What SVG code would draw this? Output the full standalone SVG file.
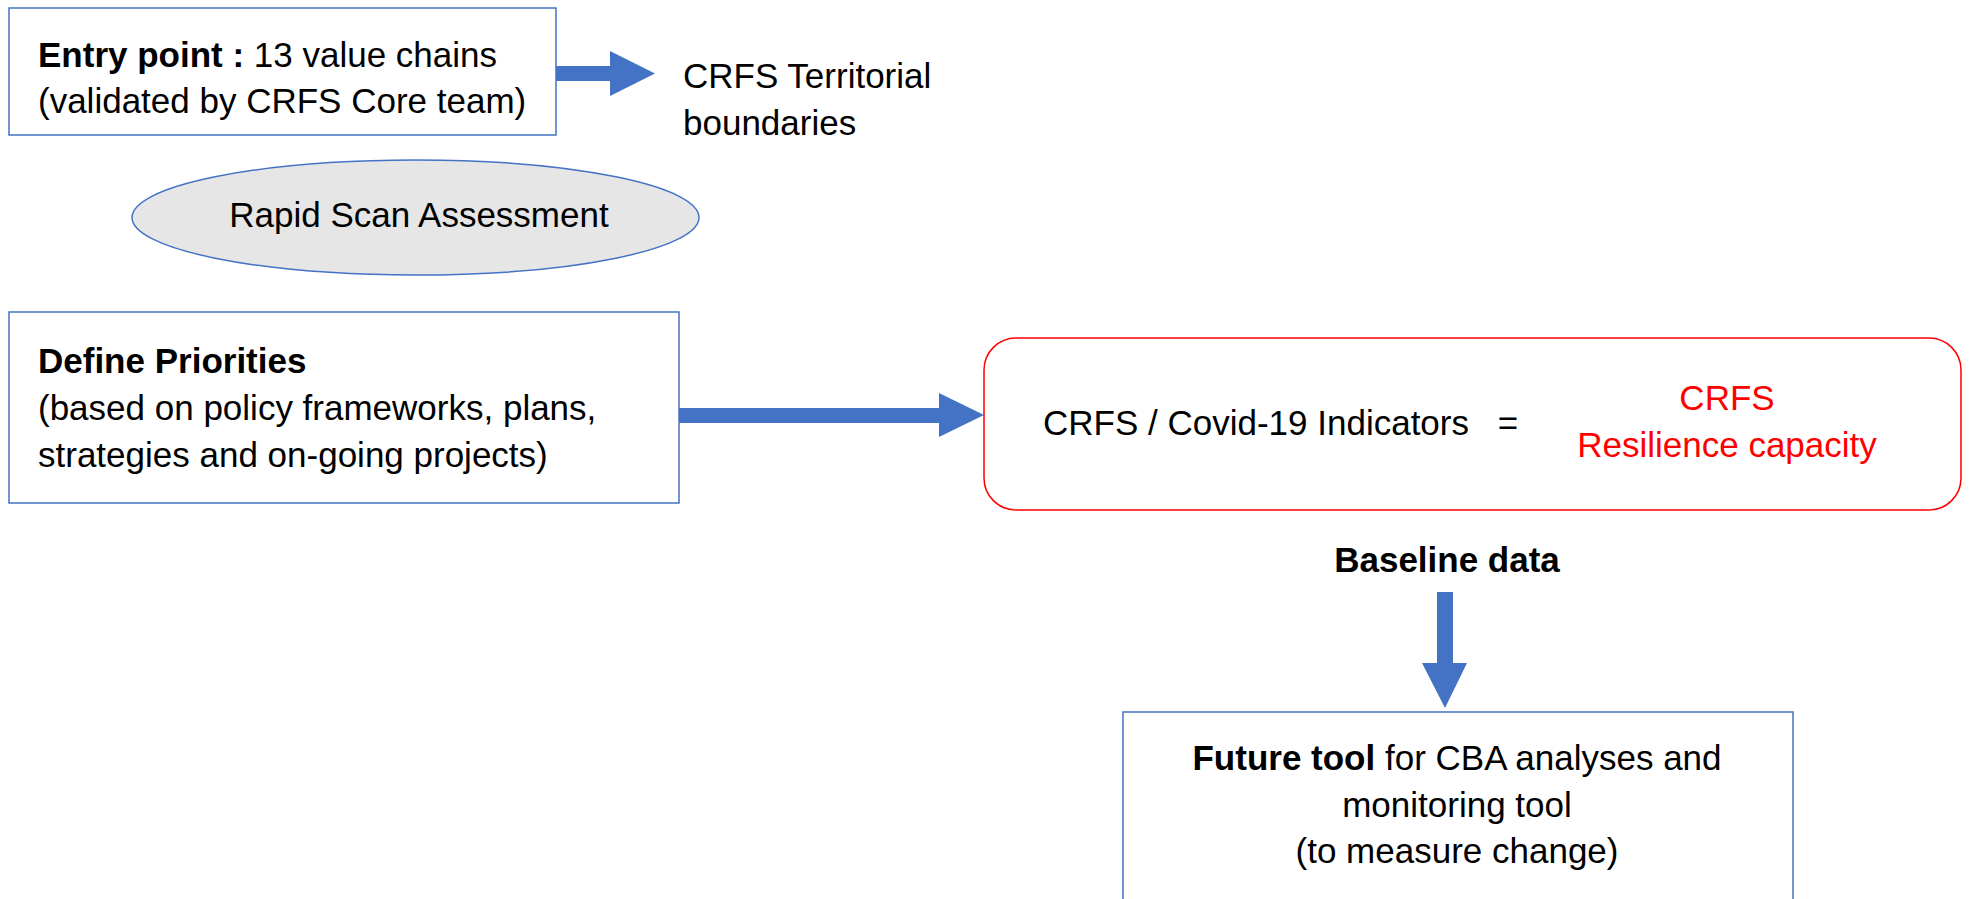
<svg xmlns="http://www.w3.org/2000/svg" width="1969" height="899" viewBox="0 0 1969 899">
<style>
text{font-family:"Liberation Sans",Arial,sans-serif;font-size:35px;fill:#000}
.b{font-weight:bold}
.red{fill:#FF0000}
.box{fill:#fff;stroke:#4472C4;stroke-width:1.5}
.arrow{fill:#4472C4;stroke:none}
</style>
<rect width="1969" height="899" fill="#fff"/>
<g id="connectors">
<polygon class="arrow" points="556,66 610,66 610,51 655,73.5 610,96 610,81 556,81"/>
<polygon class="arrow" points="679,408 939,408 939,393 984,415 939,437 939,423 679,423"/>
<polygon class="arrow" points="1437,592 1453,592 1453,663 1467,663 1445,708 1422,663 1437,663"/>
</g>
<g id="entry">
<rect class="box" x="9" y="8" width="547" height="127"/>
<text x="38" y="67"><tspan class="b">Entry point :</tspan> 13 value chains</text>
<text x="38" y="113">(validated by CRFS Core team)</text>
</g>
<g id="territorial">
<text x="683" y="88">CRFS Territorial</text>
<text x="683" y="135">boundaries</text>
</g>
<g id="rapid">
<ellipse cx="415.5" cy="217.5" rx="283.5" ry="57.5" fill="#E6E6E6" stroke="#4472C4" stroke-width="1.5"/>
<text x="419" y="227" text-anchor="middle">Rapid Scan Assessment</text>
</g>
<g id="priorities">
<rect class="box" x="9" y="312" width="670" height="191"/>
<text class="b" x="38" y="373">Define Priorities</text>
<text x="38" y="420">(based on policy frameworks, plans,</text>
<text x="38" y="467">strategies and on-going projects)</text>
</g>
<g id="indicators">
<rect x="984" y="338" width="977" height="172" rx="32" ry="32" fill="#fff" stroke="#FF0000" stroke-width="1.5"/>
<text x="1043" y="435">CRFS / Covid-19 Indicators</text>
<text x="1508" y="435" text-anchor="middle">=</text>
<text class="red" x="1727" y="410" text-anchor="middle">CRFS</text>
<text class="red" x="1727" y="457" text-anchor="middle">Resilience capacity</text>
</g>
<g id="baseline">
<text class="b" x="1447" y="572" text-anchor="middle">Baseline data</text>
</g>
<g id="future">
<rect class="box" x="1123" y="712" width="670" height="200"/>
<text x="1457" y="770" text-anchor="middle"><tspan class="b">Future tool</tspan> for CBA analyses and</text>
<text x="1457" y="817" text-anchor="middle">monitoring tool</text>
<text x="1457" y="863" text-anchor="middle">(to measure change)</text>
</g>
</svg>
